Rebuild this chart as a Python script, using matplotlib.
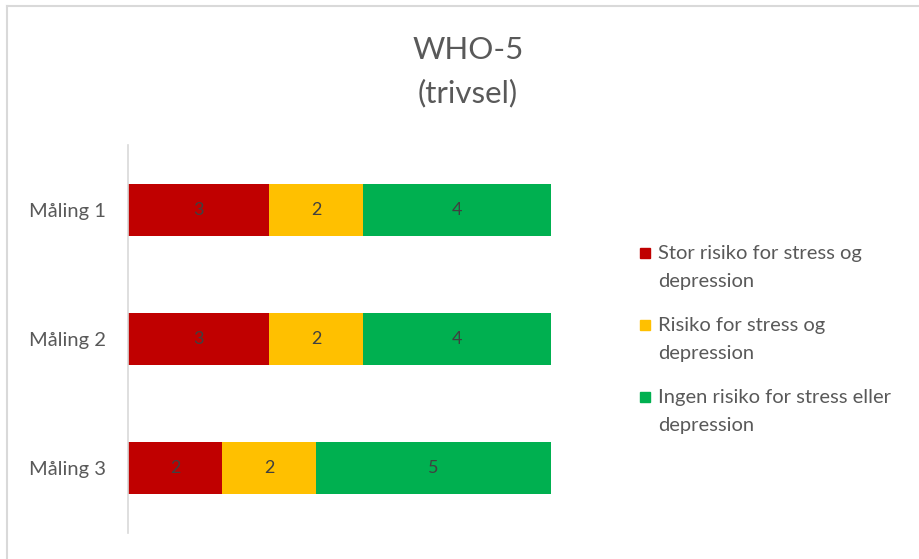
import matplotlib
matplotlib.use("Agg")
import matplotlib.pyplot as plt
from matplotlib.patches import Rectangle
from matplotlib.lines import Line2D

plt.rcParams['font.family'] = ['Lato', 'DejaVu Sans']

# Data
categories = ["Måling 1", "Måling 2", "Måling 3"]
series_names = [
    "Stor risiko for stress og\ndepression",
    "Risiko for stress og\ndepression",
    "Ingen risiko for stress eller\ndepression",
]
stor_risiko = [3, 3, 2]
risiko = [2, 2, 2]
ingen_risiko = [4, 4, 5]
colors = ["#C00000", "#FFC000", "#00B050"]

W, H = 920, 559
fig = plt.figure(figsize=(W / 100, H / 100), dpi=100)
fig.patch.set_facecolor("white")

# Chart frame (top and left edges)
fig.add_artist(Line2D([7 / W, 7 / W], [0, 1 - 6 / H], color="#D9D9D9", lw=1.5))
fig.add_artist(Line2D([7 / W, 1], [1 - 6 / H, 1 - 6 / H], color="#D9D9D9", lw=1.5))

ax = fig.add_axes([128 / W, 1 - 533 / H, 470 / W, 388 / H])

y = list(range(len(categories)))
left = [0] * len(categories)
for vals, col in zip([stor_risiko, risiko, ingen_risiko], colors):
    bars = ax.barh(y, vals, left=left, height=0.4, color=col, edgecolor="none")
    ax.bar_label(bars, labels=[str(v) for v in vals], label_type="center",
                 color="#404040", fontsize=13)
    left = [l + v for l, v in zip(left, vals)]

ax.set_xlim(0, 10)
ax.set_ylim(2.5, -0.5)
ax.set_yticks(y)
ax.set_yticklabels(categories, fontsize=14.5, color="#595959")
ax.tick_params(axis="y", length=0, pad=16)
ax.set_xticks([])
for s in ["top", "right", "bottom"]:
    ax.spines[s].set_visible(False)
ax.spines["left"].set_color("#D9D9D9")
ax.spines["left"].set_linewidth(1.2)

# Title
fig.text(468 / W, 1 - 50 / H, "WHO-5", ha="center", va="center",
         fontsize=22.5, color="#595959")
fig.text(468 / W, 1 - 93 / H, "(trivsel)", ha="center", va="center",
         fontsize=22.5, color="#595959")

# Legend
for i, (name, col) in enumerate(zip(series_names, colors)):
    yc = 253 + 72 * i
    fig.add_artist(Rectangle((640 / W, 1 - (yc + 5) / H), 10 / W, 10 / H,
                             color=col, transform=fig.transFigure))
    first, second = name.split("\n")
    fig.text(658 / W, 1 - yc / H, first, ha="left", va="center",
             fontsize=14.5, color="#595959")
    fig.text(658 / W, 1 - (yc + 28) / H, second, ha="left", va="center",
             fontsize=14.5, color="#595959")

fig.savefig("out.png", dpi=100)
